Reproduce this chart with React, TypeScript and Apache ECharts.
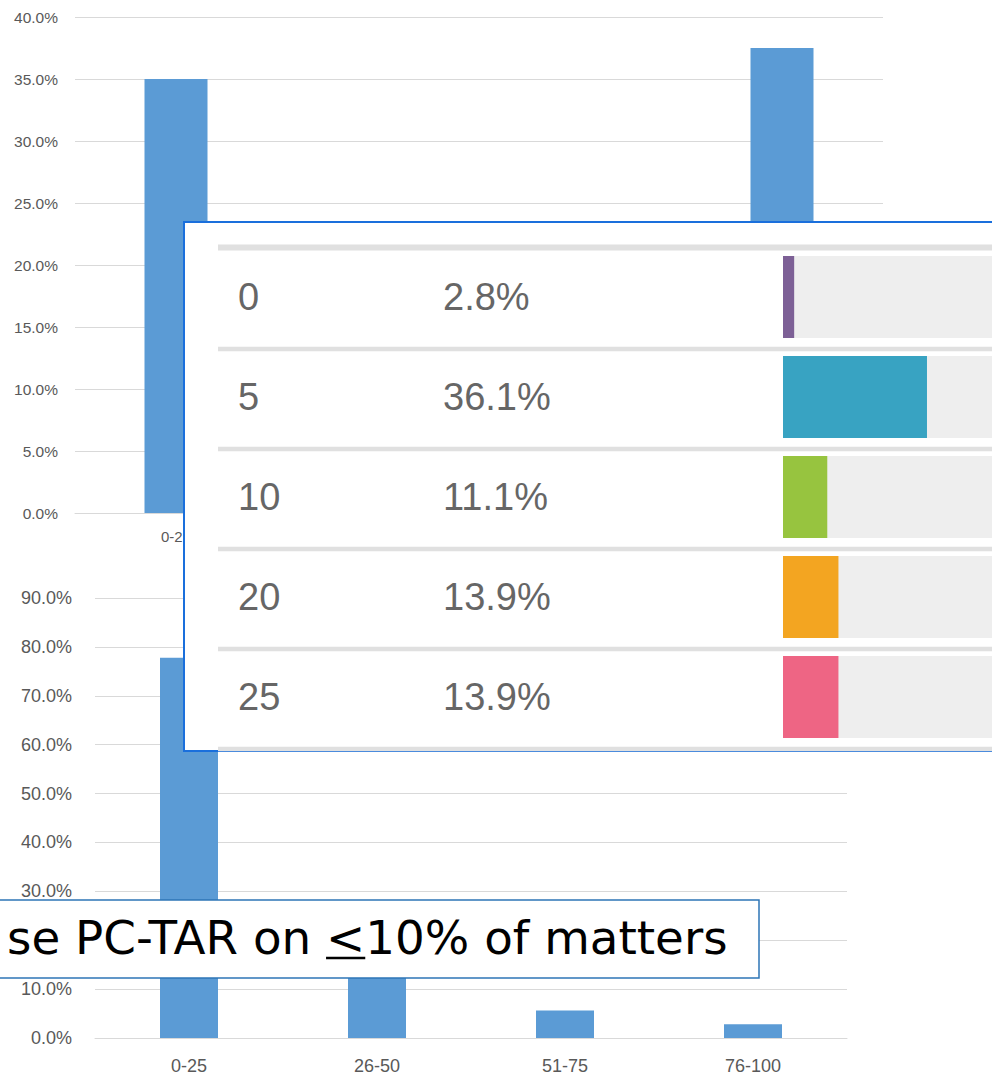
import React, { useEffect, useRef } from "react";
import * as echarts from "echarts";

const topCategories = ["0-25", "26-50", "51-75", "76-100"];
const topValues = [35.0, 15.0, 12.5, 37.5];
const topTicks = { min: 0, max: 40, interval: 5 };

const bottomCategories = ["0-25", "26-50", "51-75", "76-100"];
const bottomValues = [77.8, 13.9, 5.6, 2.8];
const bottomTicks = { min: 0, max: 90, interval: 10 };

const tableCategories = ["0", "5", "10", "20", "25"];
const tableValues = [2.8, 36.1, 11.1, 13.9, 13.9];
const tableColors = ["#7d6096", "#38a3c2", "#97c43f", "#f3a521", "#ee6584"];
// the full 0-100% track runs past the right edge; only this share of it is in view
const tableVisibleMax = 52.4;

const calloutPrefix = "se PC-TAR on ";
const calloutUnderlined = "<";
const calloutSuffix = "10% of matters";

const BAR_BLUE = "#5b9bd5";
const GRID_GRAY = "#d9d9d9";
const LABEL_GRAY = "#595959";

export default function App() {
  const ref = useRef<HTMLDivElement>(null);
  useEffect(() => {
    if (!ref.current) return;
    const chart = echarts.init(ref.current, undefined, { renderer: "svg" });

    const calloutFont = '46.8px "DejaVu Sans"';
    let prefixW = 320;
    let ltW = 39;
    try {
      const ctx = document.createElement("canvas").getContext("2d");
      if (ctx) {
        ctx.font = calloutFont;
        prefixW = ctx.measureText(calloutPrefix).width;
        ltW = ctx.measureText(calloutUnderlined).width;
      }
    } catch (e) {}
    const textX = 7;

    const pctFmt = (v: number) => v.toFixed(1) + "%";

    const option: any = {
      animation: false,
      textStyle: { fontFamily: "Liberation Sans" },
      grid: [
        { left: 75, right: 109, top: 17, bottom: 562 },
        { left: 95, right: 145, top: 598, bottom: 37 },
        { left: 783, right: 0, top: 247, height: 500 },
      ],
      xAxis: [
        {
          gridIndex: 0,
          type: "category",
          data: topCategories,
          axisTick: { show: false },
          axisLine: { lineStyle: { color: GRID_GRAY } },
          axisLabel: { color: LABEL_GRAY, fontSize: 15, margin: 16 },
        },
        {
          gridIndex: 1,
          type: "category",
          data: bottomCategories,
          axisTick: { show: false },
          axisLine: { lineStyle: { color: GRID_GRAY } },
          axisLabel: { color: LABEL_GRAY, fontSize: 18, margin: 19 },
        },
        { gridIndex: 2, type: "value", min: 0, max: tableVisibleMax, show: false },
      ],
      yAxis: [
        {
          gridIndex: 0,
          type: "value",
          ...topTicks,
          axisLine: { show: false },
          axisTick: { show: false },
          splitLine: { lineStyle: { color: GRID_GRAY } },
          axisLabel: { color: LABEL_GRAY, fontSize: 15.5, margin: 17, formatter: pctFmt },
        },
        {
          gridIndex: 1,
          type: "value",
          ...bottomTicks,
          axisLine: { show: false },
          axisTick: { show: false },
          splitLine: { lineStyle: { color: GRID_GRAY } },
          axisLabel: { color: LABEL_GRAY, fontSize: 18, margin: 23, formatter: pctFmt },
        },
        {
          gridIndex: 2,
          type: "category",
          data: tableCategories,
          inverse: true,
          z: 60,
          axisLine: { show: false },
          axisTick: { show: false },
          splitLine: { show: false },
          axisLabel: { align: "left", margin: 545, fontSize: 38, color: "#666666" },
        },
      ],
      series: [
        {
          type: "bar",
          xAxisIndex: 0,
          yAxisIndex: 0,
          data: topValues,
          barWidth: 63,
          itemStyle: { color: BAR_BLUE },
          z: 2,
        },
        {
          type: "bar",
          xAxisIndex: 1,
          yAxisIndex: 1,
          data: bottomValues,
          barWidth: 58,
          itemStyle: { color: BAR_BLUE },
          z: 2,
        },
        {
          type: "bar",
          xAxisIndex: 2,
          yAxisIndex: 2,
          z: 60,
          barWidth: 82,
          showBackground: true,
          backgroundStyle: { color: "#eeeeee" },
          data: tableValues.map((v, i) => ({ value: v, itemStyle: { color: tableColors[i] } })),
          label: {
            show: true,
            position: [-340, "50%"],
            align: "left",
            verticalAlign: "middle",
            fontSize: 38,
            color: "#666666",
            formatter: (p: any) => p.value.toFixed(1) + "%",
          },
        },
      ],
      graphic: [
        {
          type: "rect",
          z: 50,
          shape: { x: 184, y: 222, width: 900, height: 529 },
          style: { fill: "#ffffff", stroke: "#1a6fdc", lineWidth: 2 },
        },
        {
          type: "line",
          z: 51,
          shape: { x1: 218, y1: 247.5, x2: 1000, y2: 247.5 },
          style: { stroke: "#e0e0e0", lineWidth: 6 },
        },
        ...[349, 449, 549, 649, 749].map((y) => ({
          type: "line",
          z: 51,
          shape: { x1: 218, y1: y, x2: 1000, y2: y },
          style: { stroke: "#e0e0e0", lineWidth: 4.5 },
        })),
        {
          type: "rect",
          z: 70,
          shape: { x: -2, y: 900, width: 761, height: 78 },
          style: { fill: "#ffffff", stroke: "#2e75b6", lineWidth: 1.5 },
        },
        {
          type: "text",
          z: 71,
          x: textX,
          y: 938,
          style: {
            text: calloutPrefix + calloutUnderlined + calloutSuffix,
            font: calloutFont,
            fill: "#000000",
            verticalAlign: "middle",
            align: "left",
          },
        },
        {
          type: "line",
          z: 71,
          shape: { x1: textX + prefixW, y1: 958, x2: textX + prefixW + ltW, y2: 958 },
          style: { stroke: "#000000", lineWidth: 2.5 },
        },
      ],
    };
    chart.setOption(option);
    return () => chart.dispose();
  }, []);
  return (
    <div
      ref={ref}
      style={{ position: "absolute", left: 0, top: 0, width: 992, height: 1075, background: "#ffffff" }}
    />
  );
}
